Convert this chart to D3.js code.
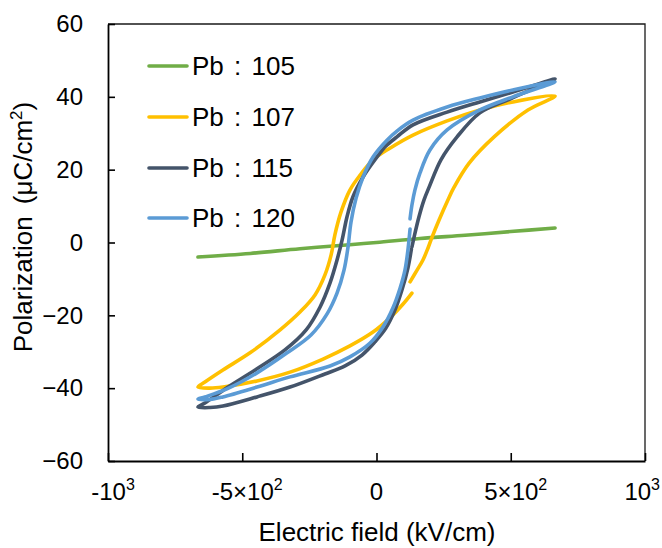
<!DOCTYPE html>
<html>
<head>
<meta charset="utf-8">
<script src="https://cdn.jsdelivr.net/npm/d3@7"></script>
<style>
  html, body { margin: 0; padding: 0; background: #fff; }
  svg { display: block; font-family: "Liberation Sans", Arial, sans-serif; }
</style>
</head>
<body>
<svg id="chart" width="662" height="548"></svg>
<script>
// P–E hysteresis loops, [field kV/cm, polarization µC/cm²]
const seriesNames = ["Pb : 105", "Pb : 107", "Pb : 115", "Pb : 120"];
const seriesColors = ["#70AD47", "#FFC000", "#44546A", "#5B9BD5"];

const loop105 = [
  [-665, -4.0], [-470, -3.0], [-285, -1.7], [-100, -0.6], [0, 0.0],
  [162, 1.1], [330, 2.0], [500, 3.0], [665, 4.0]
];

const loop107 = [
  [125, -10.8], [151, -7.6], [173, -4.8], [192, -1.5], [207, 1.5], [233, 6.2],
  [266, 11.7], [289, 15.2], [345, 21.8], [438, 29.0], [564, 36.4], [665, 40.2],
  [508, 38.6], [385, 36.4], [263, 33.4], [136, 29.5], [50, 25.9], [-13, 22.7],
  [-61, 18.5], [-99, 14.4], [-132, 8.4], [-155, 2.1], [-169, -3.4], [-192, -8.9],
  [-229, -14.4], [-285, -19.1], [-359, -24.0], [-471, -30.3], [-572, -35.0],
  [-639, -38.3], [-665, -39.7],
  [-620, -40.0], [-572, -39.7], [-445, -38.0], [-322, -35.6], [-199, -32.0],
  [-99, -28.4], [-13, -24.6], [50, -20.7], [99, -16.9], [132, -13.9]
];

const loop115 = [
  [132, -1.2], [140, 1.5], [158, 7.0], [177, 11.7], [196, 15.2], [240, 22.7],
  [300, 29.0], [385, 35.6], [497, 39.4], [665, 44.9],
  [508, 41.3], [385, 38.6], [263, 35.8], [136, 32.3], [76, 29.0], [35, 26.5],
  [2, 23.5], [-50, 18.0], [-88, 12.5], [-110, 7.0], [-128, 0.7], [-147, -4.8],
  [-173, -11.1], [-210, -17.7], [-262, -24.0], [-341, -29.5], [-452, -35.0],
  [-564, -40.2], [-639, -44.1], [-665, -45.2],
  [-620, -45.3], [-572, -44.9], [-445, -42.4], [-322, -39.7], [-192, -36.1],
  [-117, -33.9], [-54, -30.9], [-6, -27.3], [35, -23.5], [69, -18.5], [95, -13.0],
  [117, -7.0], [130, -1.8]
];

const loop120 = [
  [125, 6.5], [132, 10.3], [143, 14.4], [162, 19.1], [199, 25.4], [263, 30.9],
  [385, 36.4], [508, 40.0], [665, 44.1],
  [508, 41.9], [385, 39.7], [263, 37.2], [136, 33.6], [76, 30.6], [39, 28.1],
  [-13, 23.5], [-50, 18.0], [-76, 12.2], [-95, 5.6], [-106, -1.2], [-121, -7.6],
  [-147, -13.9], [-184, -19.6], [-244, -25.4], [-333, -30.3], [-445, -35.8],
  [-557, -40.2], [-639, -42.4], [-665, -43.0],
  [-620, -43.1], [-572, -42.4], [-445, -39.7], [-322, -36.9], [-173, -33.9],
  [-99, -31.4], [-24, -27.6], [24, -23.2], [61, -18.0], [88, -12.5], [106, -7.6],
  [117, -2.1], [125, 3.7]
];

const loops = [loop105, loop107, loop115, loop120];

const yTickValues = [-60, -40, -20, 0, 20, 40, 60];
const xTickValues = [-1000, -500, 0, 500, 1000];
// base text and exponent for each field tick label
const xTickBase = ["-10", "-5×10", "0", "5×10", "10"];
const xTickExp = ["3", "2", "", "2", "3"];

const xTitle = "Electric field (kV/cm)";
const yTitle = "Polarization (μC/cm";

const svg = d3.select("#chart");
const plotLeft = 108, plotRight = 645, plotTop = 24, plotBottom = 461;

const x = d3.scaleLinear().domain([-1000, 1000]).range([plotLeft, plotRight]);
const y = d3.scaleLinear().domain([-60, 60]).range([plotBottom, plotTop]);

// plot frame (top / right)
svg.append("path")
  .attr("d", `M${plotLeft},${plotTop}H${plotRight}V${plotBottom}`)
  .attr("fill", "none")
  .attr("stroke", "#1a1a1a")
  .attr("stroke-width", 1.3);

// y axis
const yAxis = svg.append("g")
  .attr("transform", `translate(${plotLeft},0)`)
  .call(d3.axisLeft(y).tickValues(yTickValues).tickSizeInner(-7).tickSizeOuter(0).tickPadding(25));
yAxis.select(".domain").attr("stroke", "#000").attr("stroke-width", 1.8);
yAxis.selectAll(".tick line").attr("stroke", "#000").attr("stroke-width", 1.6);
yAxis.selectAll(".tick text")
  .attr("font-size", 24)
  .attr("font-family", "Liberation Sans, Arial, sans-serif")
  .attr("fill", "#000");

// x axis
const xAxis = svg.append("g")
  .attr("transform", `translate(0,${plotBottom})`)
  .call(d3.axisBottom(x).tickValues(xTickValues).tickSizeInner(-8).tickSizeOuter(0).tickFormat(""));
xAxis.select(".domain").attr("stroke", "#000").attr("stroke-width", 1.8);
xAxis.selectAll(".tick line").attr("stroke", "#000").attr("stroke-width", 1.6);

// x tick labels with exponents
xTickValues.forEach((v, i) => {
  const t = svg.append("text")
    .attr("y", 500)
    .attr("font-size", 24)
    .attr("fill", "#000")
    .attr("text-anchor", "middle");
  t.append("tspan").text(xTickBase[i]);
  if (xTickExp[i]) {
    t.append("tspan").attr("font-size", 16).attr("dy", -10).text(xTickExp[i]);
  }
  const w = t.node().getComputedTextLength();
  let cx = x(v) + (v === 0 ? 0 : 5);
  if (cx + w / 2 > 660) cx = 660 - w / 2;
  t.attr("x", cx);
});

// axis titles
svg.append("text")
  .attr("x", 377).attr("y", 541)
  .attr("text-anchor", "middle")
  .attr("font-size", 26)
  .attr("fill", "#000")
  .text(xTitle);

const yt = svg.append("text")
  .attr("transform", "translate(32,227) rotate(-90)")
  .attr("text-anchor", "middle")
  .attr("font-size", 26)
  .attr("word-spacing", 5)
  .attr("fill", "#000");
yt.append("tspan").text(yTitle);
yt.append("tspan").attr("font-size", 17).attr("dy", -10).text("2");
yt.append("tspan").attr("dy", 10).text(")");

// loops
const line = d3.line()
  .x(d => x(d[0]))
  .y(d => y(d[1]))
  .curve(d3.curveCatmullRom.alpha(0.5));

svg.append("g").selectAll("path")
  .data(loops)
  .join("path")
  .attr("d", line)
  .attr("fill", "none")
  .attr("stroke", (d, i) => seriesColors[i])
  .attr("stroke-width", 3.6)
  .attr("stroke-linecap", "round")
  .attr("stroke-linejoin", "round");

// legend
const legend = svg.append("g");
const legendY = [66, 117, 168, 218];
seriesNames.forEach((name, i) => {
  legend.append("line")
    .attr("x1", 149).attr("x2", 187)
    .attr("y1", legendY[i]).attr("y2", legendY[i])
    .attr("stroke", seriesColors[i])
    .attr("stroke-width", 3.6)
    .attr("stroke-linecap", "round");
  legend.append("text")
    .attr("x", 192).attr("y", legendY[i])
    .attr("dy", "0.35em")
    .attr("font-size", 26)
    .attr("word-spacing", 3)
    .attr("fill", "#000")
    .style("white-space", "pre")
    .text(name);
});
</script>
</body>
</html>
